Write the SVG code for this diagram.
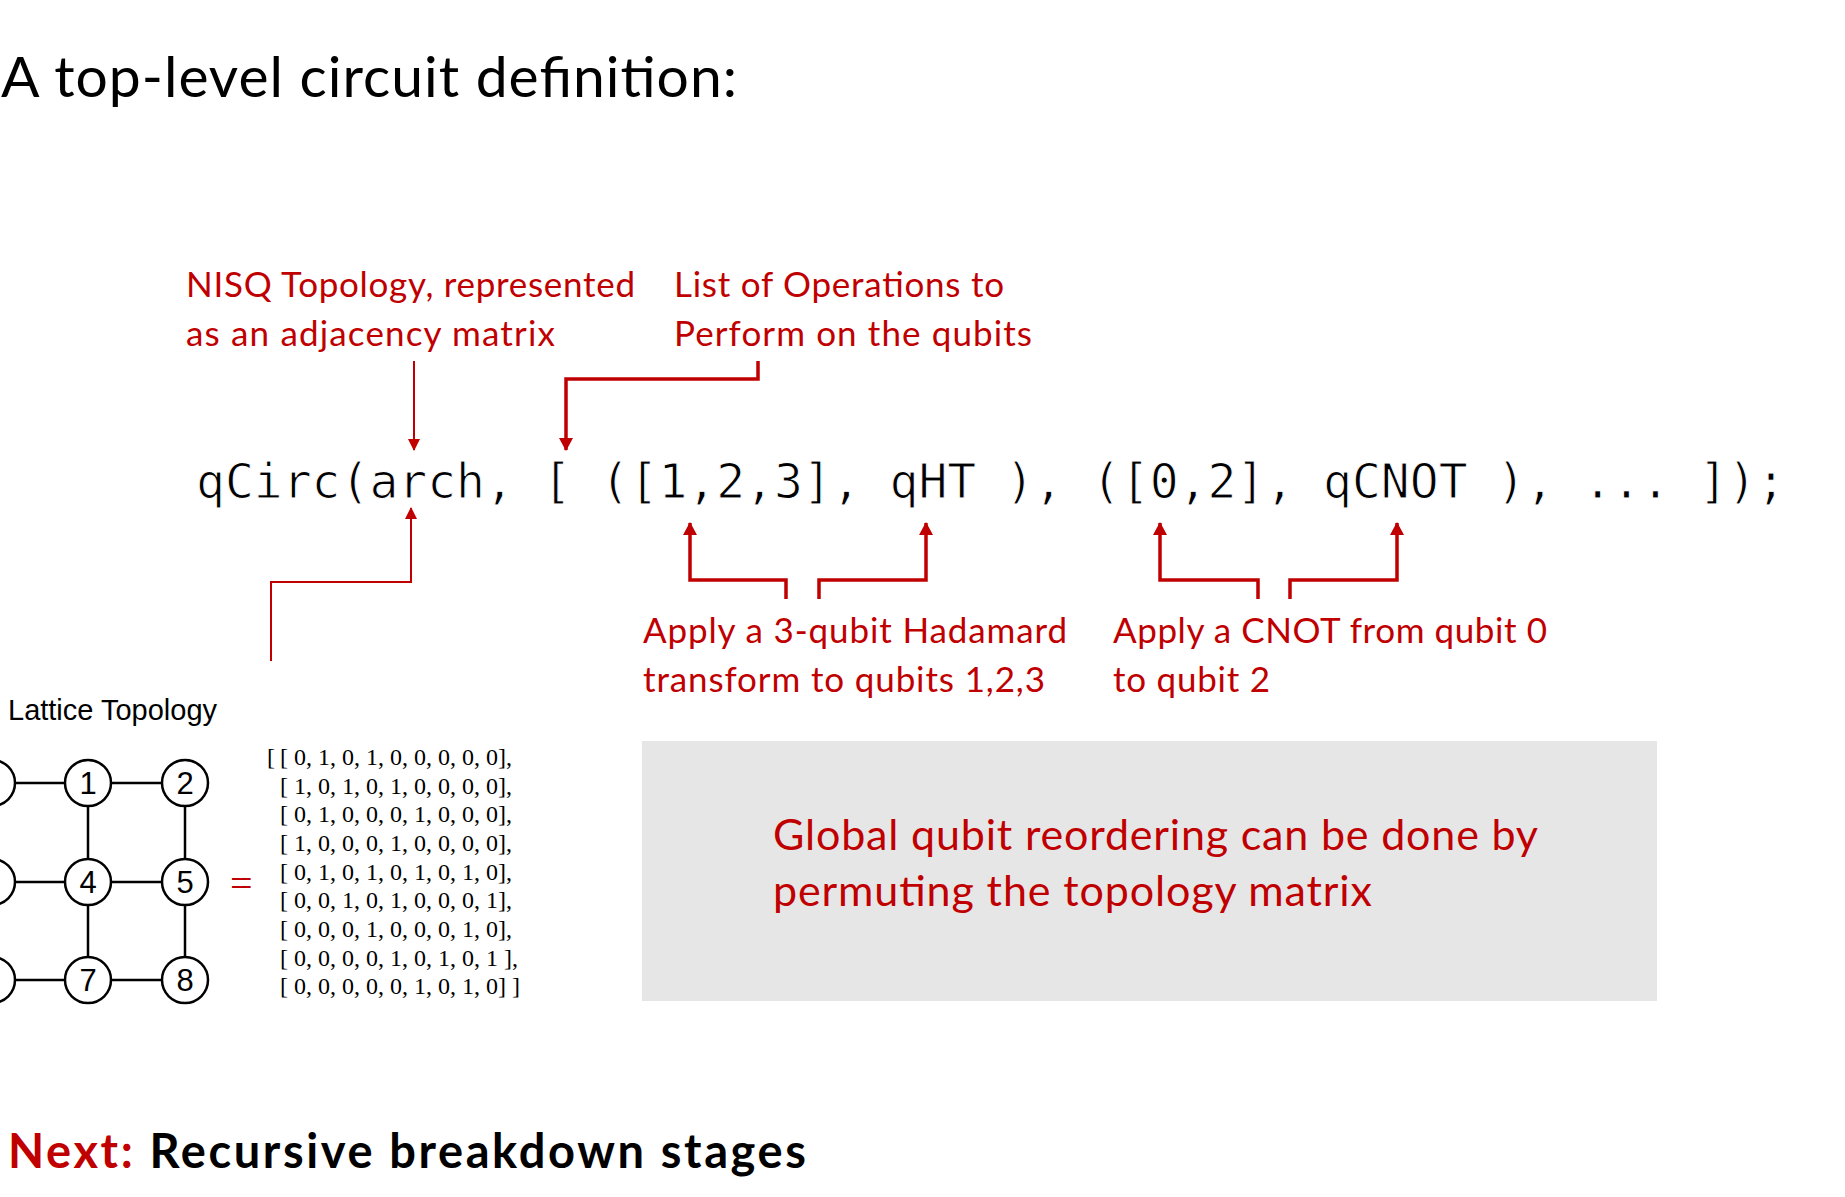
<svg xmlns="http://www.w3.org/2000/svg" width="1845" height="1197" viewBox="0 0 1845 1197">
  <style>
    .sans { font-family: Lato, "Open Sans", "Liberation Sans", sans-serif; }
    .red { fill: #C00000; }
    .note { font-family: Lato, "Open Sans", "Liberation Sans", sans-serif; font-size: 35px; fill: #C00000; }
    .code { font-family: "DejaVu Sans Mono", "Liberation Mono", monospace; font-size: 48px; fill: #000; stroke: #fff; stroke-width: 1; }
    .conn { fill: none; stroke: #C00000; stroke-linejoin: miter; }
    .thin { stroke-width: 2; }
    .thick { stroke-width: 3.5; }
    .edge { stroke: #000; stroke-width: 2.5; }
    .qubit { fill: #fff; stroke: #000; stroke-width: 2.5; }
    .qlabel { font-family: "Liberation Sans", Arial, sans-serif; font-size: 31px; fill: #000; text-anchor: middle; }
    .mat { font-family: "Liberation Serif", "Times New Roman", serif; font-size: 24px; fill: #000; }
  </style>
  <defs>
    <marker id="headThin" markerUnits="userSpaceOnUse" markerWidth="12" markerHeight="12" viewBox="0 0 12 12" refX="11" refY="6" orient="auto">
      <path d="M0,0 L12,6 L0,12 Z" fill="#C00000"/>
    </marker>
    <marker id="headThick" markerUnits="userSpaceOnUse" markerWidth="13" markerHeight="14" viewBox="0 0 13 14" refX="12" refY="7" orient="auto">
      <path d="M0,0 L13,7 L0,14 Z" fill="#C00000"/>
    </marker>
  </defs>

  <rect width="1845" height="1197" fill="#fff"/>

  <!-- heading -->
  <text id="title" class="sans" x="1" y="97" font-size="57" fill="#000" textLength="736" lengthAdjust="spacing">A top-level circuit definition:</text>

  <!-- annotations above the call -->
  <g id="note-topology">
    <text class="note" x="186" y="297" textLength="449">NISQ Topology, represented</text>
    <text class="note" x="186" y="346" textLength="369">as an adjacency matrix</text>
  </g>
  <g id="note-operations">
    <text class="note" x="674" y="297" textLength="330">List of Operations to</text>
    <text class="note" x="674" y="346" textLength="358">Perform on the qubits</text>
  </g>

  <!-- the call itself -->
  <g id="call">
    <text class="code" x="196" y="498" xml:space="preserve">qCirc(arch, [ ([1,2,3], qHT ), ([0,2], qCNOT ), ... ]);</text>
  </g>

  <!-- annotations below the call -->
  <g id="note-hadamard">
    <text class="note" x="643" y="643" textLength="424">Apply a 3-qubit Hadamard</text>
    <text class="note" x="643" y="692" textLength="402">transform to qubits 1,2,3</text>
  </g>
  <g id="note-cnot">
    <text class="note" x="1113" y="643" textLength="434">Apply a CNOT from qubit 0</text>
    <text class="note" x="1113" y="692" textLength="157">to qubit 2</text>
  </g>

  <!-- connectors -->
  <g id="connectors">
    <path class="conn thin" d="M414,361 V450" marker-end="url(#headThin)"/>
    <path class="conn thick" d="M758,361 V379 H566 V450" marker-end="url(#headThick)"/>
    <path class="conn thin" d="M271,661 V582 H411 V508" marker-end="url(#headThin)"/>
    <path class="conn thick" d="M786,599 V580 H690 V523" marker-end="url(#headThick)"/>
    <path class="conn thick" d="M819,599 V580 H926 V523" marker-end="url(#headThick)"/>
    <path class="conn thick" d="M1258,599 V580 H1160 V523" marker-end="url(#headThick)"/>
    <path class="conn thick" d="M1290,599 V580 H1397 V523" marker-end="url(#headThick)"/>
  </g>

  <!-- lattice topology figure -->
  <g id="lattice">
    <text x="8" y="720" font-family="'Liberation Sans', Arial, sans-serif" font-size="29" fill="#000">Lattice Topology</text>
    <g id="lattice-edges">
      <line class="edge" x1="-8" y1="783" x2="185" y2="783"/>
      <line class="edge" x1="-8" y1="882" x2="185" y2="882"/>
      <line class="edge" x1="-8" y1="980" x2="185" y2="980"/>
      <line class="edge" x1="88" y1="783" x2="88" y2="980"/>
      <line class="edge" x1="185" y1="783" x2="185" y2="980"/>
    </g>
    <g id="q0"><circle class="qubit" cx="-8" cy="783" r="23"/></g>
    <g id="q1"><circle class="qubit" cx="88" cy="783" r="23"/><text class="qlabel" x="88" y="794">1</text></g>
    <g id="q2"><circle class="qubit" cx="185" cy="783" r="23"/><text class="qlabel" x="185" y="794">2</text></g>
    <g id="q3"><circle class="qubit" cx="-8" cy="882" r="23"/></g>
    <g id="q4"><circle class="qubit" cx="88" cy="882" r="23"/><text class="qlabel" x="88" y="893">4</text></g>
    <g id="q5"><circle class="qubit" cx="185" cy="882" r="23"/><text class="qlabel" x="185" y="893">5</text></g>
    <g id="q6"><circle class="qubit" cx="-8" cy="980" r="23"/></g>
    <g id="q7"><circle class="qubit" cx="88" cy="980" r="23"/><text class="qlabel" x="88" y="991">7</text></g>
    <g id="q8"><circle class="qubit" cx="185" cy="980" r="23"/><text class="qlabel" x="185" y="991">8</text></g>

    <text x="230" y="897" font-family="'Liberation Serif', 'Times New Roman', serif" font-size="40" fill="#C00000">=</text>

    <g id="adjacency">
      <text class="mat" x="267" y="765" fill="#999">[</text>
      <text class="mat" x="280" y="765" xml:space="preserve">[ 0, 1, 0, 1, 0, 0, 0, 0, 0],</text>
      <text class="mat" x="280" y="794" xml:space="preserve">[ 1, 0, 1, 0, 1, 0, 0, 0, 0],</text>
      <text class="mat" x="280" y="822" xml:space="preserve">[ 0, 1, 0, 0, 0, 1, 0, 0, 0],</text>
      <text class="mat" x="280" y="851" xml:space="preserve">[ 1, 0, 0, 0, 1, 0, 0, 0, 0],</text>
      <text class="mat" x="280" y="880" xml:space="preserve">[ 0, 1, 0, 1, 0, 1, 0, 1, 0],</text>
      <text class="mat" x="280" y="908" xml:space="preserve">[ 0, 0, 1, 0, 1, 0, 0, 0, 1],</text>
      <text class="mat" x="280" y="937" xml:space="preserve">[ 0, 0, 0, 1, 0, 0, 0, 1, 0],</text>
      <text class="mat" x="280" y="966" xml:space="preserve">[ 0, 0, 0, 0, 1, 0, 1, 0, 1 ],</text>
      <text class="mat" x="280" y="994" xml:space="preserve">[ 0, 0, 0, 0, 0, 1, 0, 1, 0] ]</text>
    </g>
  </g>

  <!-- remark box -->
  <g id="remark">
    <rect x="642" y="741" width="1015" height="260" fill="#E6E6E6"/>
    <text class="sans red" x="773" y="850" font-size="43" textLength="765">Global qubit reordering can be done by</text>
    <text class="sans red" x="773" y="906" font-size="43" textLength="599">permuting the topology matrix</text>
  </g>

  <!-- footer -->
  <text id="next" class="sans" x="8" y="1168" font-size="47" font-weight="bold" textLength="798"><tspan fill="#C00000">Next:</tspan><tspan fill="#000"> Recursive breakdown stages</tspan></text>
</svg>
